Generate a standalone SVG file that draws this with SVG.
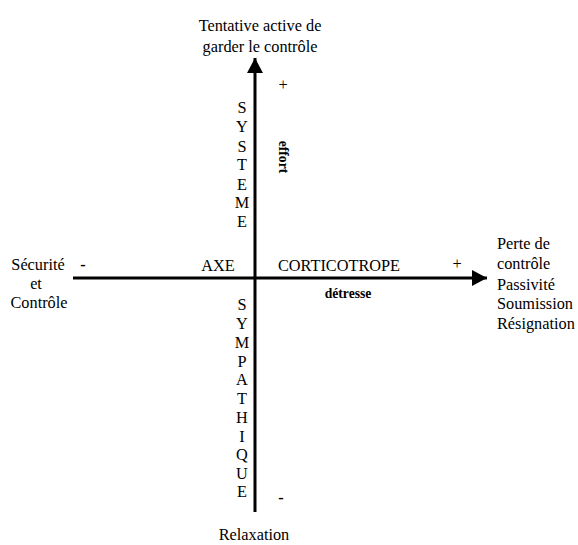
<svg xmlns="http://www.w3.org/2000/svg" width="578" height="545" viewBox="0 0 578 545">
<style>
text{font-family:"Liberation Serif","Times New Roman",serif;font-size:16.3px;fill:#000}
.m{text-anchor:middle}
.b{font-weight:bold;font-size:13.6px}
.d{font-weight:bold}
.axis{stroke:#000;stroke-width:3;fill:none}
</style>
<defs>
<marker id="ah" markerUnits="userSpaceOnUse" markerWidth="16" markerHeight="16" refX="15" refY="8" orient="auto">
<path d="M0,0 L15,8 L0,16 Z" fill="#000"/>
</marker>
</defs>
<rect width="578" height="545" fill="#fff"/>
<g id="connectors">
<line class="axis" x1="73" y1="278" x2="487" y2="278" marker-end="url(#ah)"/>
<line class="axis" x1="255" y1="512" x2="255" y2="58" marker-end="url(#ah)"/>
</g>
<g id="top-label">
<text class="m" x="260" y="31">Tentative active de</text>
<text class="m" x="260" y="52">garder le contrôle</text>
<text class="m" x="283" y="90">+</text>
</g>
<g id="left-label">
<text class="m" x="38" y="270">Sécurité</text>
<text class="m" x="36" y="289">et</text>
<text class="m" x="39" y="308">Contrôle</text>
<text class="m d" x="83" y="270">-</text>
</g>
<g id="right-label">
<text x="497" y="249">Perte de</text>
<text x="497" y="269">contrôle</text>
<text x="497" y="290">Passivité</text>
<text x="497" y="309">Soumission</text>
<text x="497" y="329">Résignation</text>
<text class="m" x="457" y="269">+</text>
</g>
<g id="bottom-label">
<text class="m" x="254" y="540">Relaxation</text>
<text class="m d" x="281" y="503">-</text>
</g>
<g id="axe-label">
<text class="m" x="218" y="271">AXE</text>
<text x="278" y="271">CORTICOTROPE</text>
<text class="m b" x="348" y="298">détresse</text>
<text class="b" x="0" y="0" text-anchor="middle" font-size="15.5" transform="translate(279,157) rotate(90)">effort</text>
</g>
<g id="systeme">
<text class="m" x="242" y="113">S</text>
<text class="m" x="242" y="132">Y</text>
<text class="m" x="242" y="152">S</text>
<text class="m" x="242" y="170">T</text>
<text class="m" x="242" y="190">E</text>
<text class="m" x="242" y="208">M</text>
<text class="m" x="242" y="227">E</text>
</g>
<g id="sympathique">
<text class="m" x="242" y="310">S</text>
<text class="m" x="242" y="329">Y</text>
<text class="m" x="242" y="348">M</text>
<text class="m" x="242" y="367">P</text>
<text class="m" x="242" y="385">A</text>
<text class="m" x="242" y="404">T</text>
<text class="m" x="242" y="423">H</text>
<text class="m" x="242" y="442">I</text>
<text class="m" x="242" y="460">Q</text>
<text class="m" x="242" y="479">U</text>
<text class="m" x="242" y="497">E</text>
</g>
</svg>
